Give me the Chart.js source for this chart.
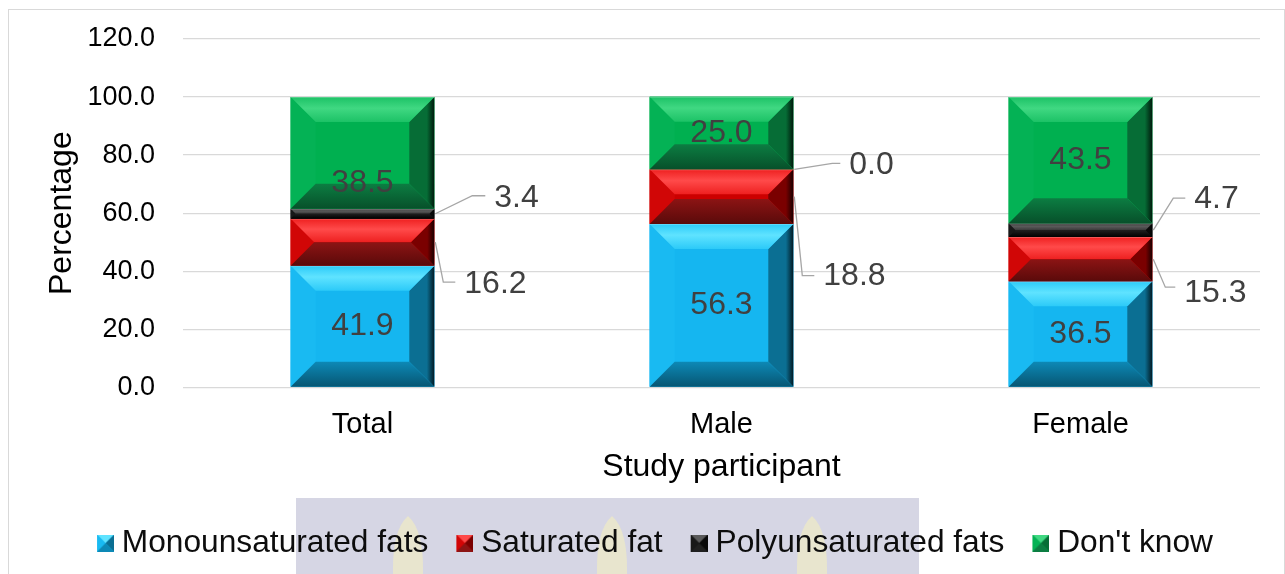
<!DOCTYPE html>
<html>
<head>
<meta charset="utf-8">
<script src="https://cdn.jsdelivr.net/npm/chart.js@4.4.1/dist/chart.umd.min.js"></script>
<style>
  html, body { margin: 0; padding: 0; background: #fff; }
  #wrap { width: 1285px; height: 574px; position: relative; }
</style>
</head>
<body>
<div id="wrap"><canvas id="fatChart" width="1285" height="574"></canvas></div>
<script>
// Data
var categories = ['Total', 'Male', 'Female'];
var monounsaturated = [41.9, 56.3, 36.5];
var saturated = [16.2, 18.8, 15.3];
var polyunsaturated = [3.4, 0.0, 4.7];
var dontKnow = [38.5, 25.0, 43.5];
var yTicks = [0, 20, 40, 60, 80, 100, 120];

var FONT = '"Liberation Sans", Arial, sans-serif';

// bevel colours per series
var bevels = {
    blue:  { face: '#15b6f0', top: '#2ccaf8', hi: '#5fe3ff', bot: '#0d89b6', botDark: '#075673', left: '#19baf2', right: '#0b6f93', rightDark: '#021a24' },
    red:   { face: '#cc0000', top: '#ee2020', hi: '#ff4a4a', bot: '#8c1414', botDark: '#5a0a0a', left: '#d10606', right: '#7a0000', rightDark: '#1a0000' },
    black: { face: '#101010', top: '#3a3a3a', hi: '#5a5a5a', bot: '#202020', botDark: '#000000', left: '#181818', right: '#080808', rightDark: '#000000' },
    green: { face: '#00b050', top: '#1cc266', hi: '#40d882', bot: '#0c7d42', botDark: '#07502a', left: '#04b255', right: '#066d36', rightDark: '#001a0c' }
};

function drawBevel(ctx, x0, y0, x1, y1, c) {
    var w = x1 - x0, h = y1 - y0;
    if (h <= 0.5) return;
    var b = Math.min(25, h / 2, w / 2);
    ctx.save();
    ctx.fillStyle = c.face;
    ctx.fillRect(x0, y0, w, h);
    // left
    ctx.fillStyle = c.left;
    ctx.beginPath();
    ctx.moveTo(x0, y0); ctx.lineTo(x0 + b, y0 + b); ctx.lineTo(x0 + b, y1 - b); ctx.lineTo(x0, y1);
    ctx.closePath(); ctx.fill();
    // right
    var gr = ctx.createLinearGradient(x1 - b, 0, x1, 0);
    gr.addColorStop(0, c.right); gr.addColorStop(0.7, c.right); gr.addColorStop(1, c.rightDark);
    ctx.fillStyle = gr;
    ctx.beginPath();
    ctx.moveTo(x1, y0); ctx.lineTo(x1 - b, y0 + b); ctx.lineTo(x1 - b, y1 - b); ctx.lineTo(x1, y1);
    ctx.closePath(); ctx.fill();
    // top
    var gt = ctx.createLinearGradient(0, y0, 0, y0 + b);
    gt.addColorStop(0, c.top); gt.addColorStop(0.45, c.hi); gt.addColorStop(1, c.top);
    ctx.fillStyle = gt;
    ctx.beginPath();
    ctx.moveTo(x0, y0); ctx.lineTo(x1, y0); ctx.lineTo(x1 - b, y0 + b); ctx.lineTo(x0 + b, y0 + b);
    ctx.closePath(); ctx.fill();
    // bottom
    var gb = ctx.createLinearGradient(0, y1 - b, 0, y1);
    gb.addColorStop(0, c.bot); gb.addColorStop(1, c.botDark);
    ctx.fillStyle = gb;
    ctx.beginPath();
    ctx.moveTo(x0, y1); ctx.lineTo(x1, y1); ctx.lineTo(x1 - b, y1 - b); ctx.lineTo(x0 + b, y1 - b);
    ctx.closePath(); ctx.fill();
    ctx.fillStyle = 'rgba(255,255,255,0.25)';
    ctx.fillRect(x0, y0, w, 1);
    ctx.restore();
}

// bevelled legend square, drawn off-centre so the text sits closer to it
function legendBox(c) {
    var cv = document.createElement('canvas');
    cv.width = 37; cv.height = 17;
    var g = cv.getContext('2d');
    g.translate(20, 0);
    var b = 8.5;
    g.fillStyle = c.face; g.fillRect(0, 0, 17, 17);
    g.fillStyle = c.hi;
    g.beginPath(); g.moveTo(0, 0); g.lineTo(17, 0); g.lineTo(b, b); g.closePath(); g.fill();
    g.fillStyle = c.left;
    g.beginPath(); g.moveTo(0, 0); g.lineTo(b, b); g.lineTo(0, 17); g.closePath(); g.fill();
    g.fillStyle = c.right;
    g.beginPath(); g.moveTo(17, 0); g.lineTo(b, b); g.lineTo(17, 17); g.closePath(); g.fill();
    g.fillStyle = c.bot;
    g.beginPath(); g.moveTo(0, 17); g.lineTo(17, 17); g.lineTo(b, b); g.closePath(); g.fill();
    return cv;
}

// label placement: dy = centred in segment, otherwise leader line offsets
var labelPlacement = [
    [{ dy: 0 }, { dy: 0 }, { dy: 0 }],
    [{ lx: 8, ly: 40, ex: 20, ty: 2 }, { lx: 8, ly: 79, ex: 20, ty: 1 }, { lx: 12, ly: 28, ex: 22, ty: 6 }],
    [{ lx: 37, ly: -18, ex: 50, ty: 2 }, { lx: 38, ly: -6, ex: 46, ty: 2 }, { lx: 20, ly: -32, ex: 32, ty: 1 }],
    [{ dy: 30 }, { dy: 0 }, { dy: 0 }]
];

var bevelPlugin = {
    id: 'bevelBars',
    beforeDraw: function(chart) {
        var ctx = chart.ctx;
        ctx.save();
        ctx.strokeStyle = '#d9d9d9';
        ctx.lineWidth = 1;
        ctx.strokeRect(8.5, 9.5, 1276, 580);
        // faint watermark behind the legend
        ctx.fillStyle = '#d6d6e4';
        ctx.fillRect(296, 498, 623, 76);
        ctx.fillStyle = 'rgba(236,232,200,0.8)';
        [408, 612, 812].forEach(function(cx) {
            ctx.beginPath();
            ctx.moveTo(cx, 516);
            ctx.quadraticCurveTo(cx + 16, 530, cx + 15, 574);
            ctx.lineTo(cx - 15, 574);
            ctx.quadraticCurveTo(cx - 16, 530, cx, 516);
            ctx.fill();
        });
        ctx.restore();
    },
    afterDatasetsDraw: function(chart) {
        var ctx = chart.ctx;
        chart.data.datasets.forEach(function(ds, di) {
            var meta = chart.getDatasetMeta(di);
            meta.data.forEach(function(bar) {
                var x0 = bar.x - bar.width / 2, x1 = bar.x + bar.width / 2;
                var y0 = Math.min(bar.y, bar.base), y1 = Math.max(bar.y, bar.base);
                drawBevel(ctx, x0, y0, x1, y1, ds.bevel);
            });
        });
        // value labels
        ctx.save();
        ctx.font = '32px ' + FONT;
        ctx.fillStyle = '#404040';
        ctx.textBaseline = 'middle';
        chart.data.datasets.forEach(function(ds, di) {
            var meta = chart.getDatasetMeta(di);
            meta.data.forEach(function(bar, i) {
                var txt = ds.data[i].toFixed(1);
                var p = labelPlacement[di][i];
                var cy = (bar.y + bar.base) / 2;
                if (p.lx === undefined) {
                    ctx.textAlign = 'center';
                    ctx.fillText(txt, bar.x, cy + p.dy);
                } else {
                    var sx = bar.x + bar.width / 2 + 1;
                    ctx.strokeStyle = '#a6a6a6';
                    ctx.lineWidth = 1.3;
                    ctx.beginPath();
                    ctx.moveTo(sx, cy);
                    ctx.lineTo(sx + p.lx, cy + p.ly);
                    ctx.lineTo(sx + p.ex, cy + p.ly);
                    ctx.stroke();
                    ctx.textAlign = 'left';
                    ctx.fillText(txt, sx + p.ex + 9, cy + p.ly + p.ty);
                }
            });
        });
        ctx.restore();
    }
};

var ctx = document.getElementById('fatChart');
var fatChart = new Chart(ctx, {
    type: 'bar',
    data: {
        labels: categories,
        datasets: [
            { label: 'Monounsaturated fats', data: monounsaturated, backgroundColor: bevels.blue.face, bevel: bevels.blue, pointStyle: legendBox(bevels.blue) },
            { label: 'Saturated fat', data: saturated, backgroundColor: bevels.red.face, bevel: bevels.red, pointStyle: legendBox(bevels.red) },
            { label: 'Polyunsaturated fats', data: polyunsaturated, backgroundColor: bevels.black.face, bevel: bevels.black, pointStyle: legendBox(bevels.black) },
            { label: "Don't know", data: dontKnow, backgroundColor: bevels.green.face, bevel: bevels.green, pointStyle: legendBox(bevels.green) }
        ]
    },
    options: {
        responsive: false,
        animation: false,
        events: [],
        barPercentage: 0.8,
        categoryPercentage: 0.5,
        layout: { padding: { left: 38, right: 25, top: 39, bottom: 5 } },
        plugins: {
            tooltip: { enabled: false },
            legend: {
                position: 'bottom',
                labels: {
                    usePointStyle: true,
                    pointStyleWidth: 21,
                    boxHeight: 17,
                    padding: 16,
                    color: '#0d0d0d',
                    font: { family: FONT, size: 31.7 }
                }
            }
        },
        scales: {
            x: {
                stacked: true,
                grid: { display: false, drawTicks: false },
                border: { display: false },
                afterFit: function(axis) { axis.height = 124; },
                ticks: { color: '#000', padding: 20, font: { family: FONT, size: 29 } },
                title: { display: true, text: 'Study participant', color: '#000', padding: { top: 0, bottom: 25 },
                         font: { family: FONT, size: 32 } }
            },
            y: {
                stacked: true,
                min: yTicks[0],
                max: yTicks[yTicks.length - 1],
                afterBuildTicks: function(axis) { axis.ticks = yTicks.map(function(v) { return { value: v }; }); },
                afterFit: function(axis) { axis.width = 145; },
                grid: { color: '#d9d9d9', lineWidth: 1.3, drawTicks: true, tickLength: 20, tickColor: 'rgba(0,0,0,0)' },
                border: { display: false },
                ticks: { color: '#000', padding: 8, callback: function(v) { return v.toFixed(1); },
                         font: { family: FONT, size: 27 } },
                title: { display: true, text: 'Percentage', color: '#000', padding: { top: 5, bottom: 0 },
                         font: { family: FONT, size: 32 } }
            }
        }
    },
    plugins: [bevelPlugin]
});
</script>
</body>
</html>
